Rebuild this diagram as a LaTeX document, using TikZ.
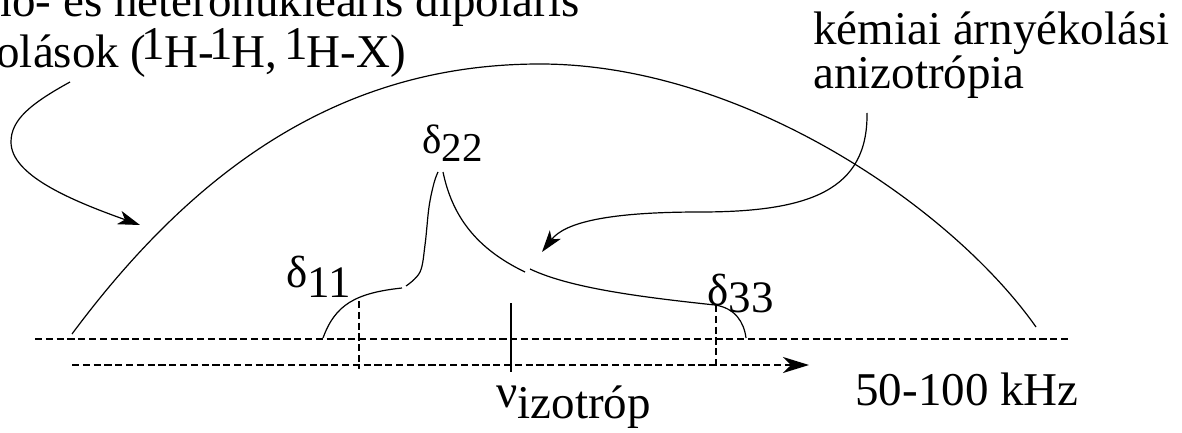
\documentclass[tikz,border=0pt]{standalone}
\usepackage{fontspec}
\setmainfont{Liberation Serif}
\usetikzlibrary{arrows.meta}
\newcommand\mysupr[1]{\kern-2.3pt\raisebox{4pt}{#1}\kern-0.6pt}
\newcommand\mysubr[2]{\lower#1\hbox{#2}}
\begin{document}
\begin{tikzpicture}[x=0.5pt,y=-0.5pt,
  txt/.style={inner sep=0pt, font=\fontsize{23.5pt}{26pt}\selectfont},
  lbl/.style={inner sep=0pt, font=\fontsize{22.5pt}{25pt}\selectfont},
  curve/.style={line width=0.6pt},
  dashline/.style={line width=1pt, dash pattern=on 3.6pt off 1.8pt},
  arr/.style={-{Stealth[length=11pt,width=7pt,inset=3pt]}},
  bigarr/.style={-{Stealth[length=13pt,width=8pt,inset=4pt]}}]
\useasboundingbox (0,0) rectangle (1182,433);
% texts
\node[txt, anchor=base west] (dip1) at (-82,17) {Homo- és heteronukleáris dipoláris};
\node[txt, anchor=base west] (dip2) at (-77,68) {csatolások (\mysupr{1}H-\mysupr{1}H, \mysupr{1}H-X)};
\node[txt, anchor=base west] (csa1) at (813,45) {kémiai árnyékolási};
\node[txt, anchor=base west] (csa2) at (813,89) {anizotrópia};
\node[lbl, anchor=base west] (d11) at (286,287) {δ\mysubr{5pt}{11}};
\node[inner sep=0pt, anchor=base west, font=\fontsize{20.5pt}{22pt}\selectfont] (d22) at (422,153) {δ\mysubr{4.5pt}{22}};
\node[lbl, anchor=base west] (d33) at (707,305) {δ\mysubr{3.5pt}{33}};
\node[txt, anchor=base west] (nu) at (496,407) {ν\mysubr{5.5pt}{izotróp}};
\node[txt, anchor=base west] (khz) at (855,405) {50-100 kHz};
% axes
\coordinate (l1a) at (35,339); \coordinate (l1b) at (1068,339);
\coordinate (l2a) at (72,365); \coordinate (l2b) at (809,365);
\draw[dashline] (l1a) -- (l1b);
\draw[dashline, bigarr] (l2a) -- (l2b);
\coordinate (v1a) at (359,301); \coordinate (v1b) at (359,369);
\coordinate (v3a) at (716,305); \coordinate (v3b) at (716,368);
\coordinate (via) at (511,303); \coordinate (vib) at (511,372);
\draw[dashline] (v1a) -- (v1b);
\draw[dashline] (v3a) -- (v3b);
\draw[line width=0.9pt] (via) -- (vib);
% dome
\coordinate (domeL) at (72,334); \coordinate (domeT) at (540,64); \coordinate (domeR) at (1036,327);
\draw[curve] (domeL) .. controls (202,159) and (350,64) .. (domeT)
  .. controls (740,64) and (950,205) .. (domeR);
% powder pattern
\draw[curve] (323,338) .. controls (335,305) and (355,293) .. (402,288);
\draw[curve] plot[smooth, tension=0.6] coordinates {(406,286) (420,272) (425,245) (429,207) (434,183) (438,172)};
\draw[curve] (443,172) .. controls (452,215) and (475,248) .. (525,272);
\draw[curve] (530,269) .. controls (570,288) and (640,297) .. (715,305) .. controls (735,308) and (744,322) .. (746,338);
% pointer arrows
\coordinate (la) at (70,82); \coordinate (lb) at (140,225);
\coordinate (ra) at (867,113); \coordinate (rb) at (542,252);
\draw[curve, arr] (la) .. controls (30,104) and (11,120) .. (11,142) .. controls (11,175) and (70,200) .. (lb);
\draw[curve, arr] (ra) .. controls (868,190) and (810,212) .. (700,212) .. controls (610,212) and (565,222) .. (rb);
\end{tikzpicture}
\end{document}
